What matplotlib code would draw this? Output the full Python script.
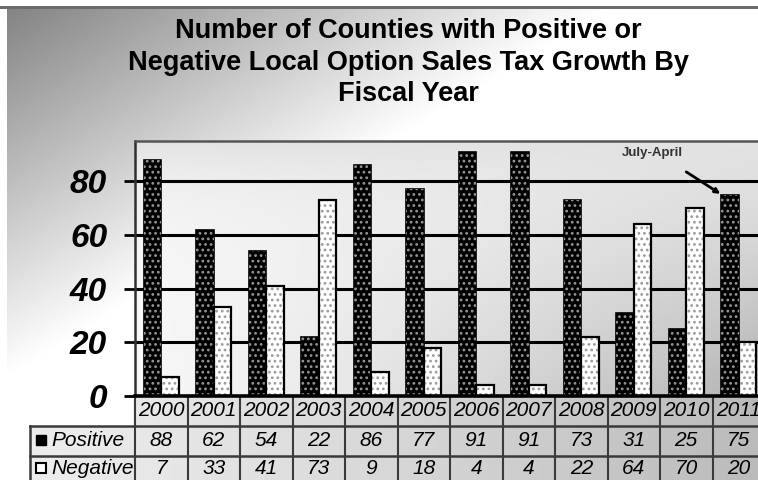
import numpy as np
import matplotlib
matplotlib.use("Agg")
import matplotlib.pyplot as plt

years = ["2000", "2001", "2002", "2003", "2004", "2005", "2006", "2007", "2008", "2009", "2010", "2011"]
positive = [88, 62, 54, 22, 86, 77, 91, 91, 73, 31, 25, 75]
negative = [7, 33, 41, 73, 9, 18, 4, 4, 22, 64, 70, 20]
yticks = [0, 20, 40, 60, 80]
title_lines = ["Number of Counties with Positive or",
               "Negative Local Option Sales Tax Growth By",
               "Fiscal Year"]
row_labels = ["Positive", "Negative"]
note = "July-April"

plt.rcParams['font.family'] = ['Liberation Sans', 'DejaVu Sans']
plt.rcParams['hatch.linewidth'] = 1.2

W, H = 758, 480
fig = plt.figure(figsize=(W / 100, H / 100), dpi=100)

# ---------- background gradient (pixel grid) ----------
X, Y = np.meshgrid(np.arange(W), np.arange(H))
t = np.clip(1 - (X / 620.0 + Y / 380.0), 0, 1)
bgv = 1 - 0.5 * t
# plot area gradient
L, R, T, B = 135, 765, 141, 396
pa = (X >= L) & (Y >= T) & (Y < B)
px = (X - L) / (R - L)
py = (B - Y) / (B - T)
pav = 0.97 - 0.27 * px ** 1.3 * (1 - py) ** 0.8 - 0.08 * py ** 5
bgv = np.where(pa, pav, bgv)
# table area gradient
tb = ((X >= L) & (Y >= B)) | ((X >= 30) & (Y >= 426))
tbv = 0.93 - 0.2 * np.clip((X - 30) / 730.0, 0, 1) ** 1.2
bgv = np.where(tb, tbv, bgv)
# white strips & top dark line
bgv[:, :7] = 1.0
bgv[:6, :] = 1.0
bgv[6:9, :] = 0.42
img = np.dstack([bgv, bgv, bgv])
bg = fig.add_axes([0, 0, 1, 1], zorder=-10)
bg.imshow(img, aspect='auto', interpolation='bilinear', extent=[0, W, H, 0])
bg.set_xlim(0, W); bg.set_ylim(H, 0)
bg.set_axis_off()

# ---------- main axes ----------
ax = fig.add_axes([L / W, (H - B) / H, (R - L) / W, (B - T) / H])
ax.patch.set_alpha(0)
x = np.arange(len(years))
bw = 0.33
ax.set_xlim(-0.5, len(years) - 0.5)
ax.set_ylim(0, 95)

for yv in yticks[1:]:
    ax.axhline(yv, color='black', lw=2.2, zorder=1)
ax.axhline(0, color='black', lw=2.6, zorder=4, clip_on=False)

# positive bars: black with gray dots
ax.bar(x - bw / 2, positive, bw, color='black', edgecolor='black', lw=1.2, zorder=2)
ax.bar(x - bw / 2, positive, bw, facecolor='none', edgecolor='#969696', hatch='...', lw=0, zorder=2.1)
# negative bars: white with gray dots
ax.bar(x + bw / 2, negative, bw, color='white', edgecolor='black', lw=1.2, zorder=2)
ax.bar(x + bw / 2, negative, bw, facecolor='none', edgecolor='#9a9a9a', hatch='...', lw=0, zorder=2.1)
ax.bar(x + bw / 2, negative, bw, facecolor='none', edgecolor='black', lw=1.6, zorder=2.2)

ax.set_yticks(yticks)
ax.set_yticklabels([str(v) for v in yticks], fontsize=24, fontweight='bold', fontstyle='italic')
ax.tick_params(axis='y', length=8, width=2, pad=12, color='black')
ax.set_xticks([])
ax.spines['right'].set_visible(False)
ax.spines['bottom'].set_visible(False)
ax.spines['top'].set_color('#555555'); ax.spines['top'].set_linewidth(1.8)
ax.spines['left'].set_color('#303030'); ax.spines['left'].set_linewidth(1.8)

# ---------- data table ----------
def ya(pix):
    return (B - pix) / (B - T)

tr = ax.get_xaxis_transform()
lc = '#3a3a3a'
for i in range(len(years) + 1):
    ax.plot([i - 0.5, i - 0.5], [ya(396), ya(482)], color=lc, lw=1.5, transform=tr, clip_on=False)
xl = -0.5 - 105 / 52.5
for py_ in (426, 456):
    ax.plot([xl, len(years) - 0.5], [ya(py_), ya(py_)], color=lc, lw=1.8, transform=tr, clip_on=False)
ax.plot([xl, xl], [ya(426), ya(482)], color=lc, lw=1.8, transform=tr, clip_on=False)

fs = 15
for i, yr in enumerate(years):
    ax.text(i, ya(410), yr, transform=tr, ha='center', va='center', fontsize=fs,
            fontstyle='italic', clip_on=False)
    ax.text(i, ya(441), str(positive[i]), transform=tr, ha='center', va='center', fontsize=fs,
            fontstyle='italic', clip_on=False)
    ax.text(i, ya(469), str(negative[i]), transform=tr, ha='center', va='center', fontsize=fs,
            fontstyle='italic', clip_on=False)

mx = -0.5 - 94 / 52.5
tx = -0.5 - 84 / 52.5
ax.plot([mx], [ya(440)], marker='s', ms=7, mfc='black', mec='black', transform=tr, clip_on=False)
ax.plot([mx], [ya(468)], marker='s', ms=6.5, mfc='white', mec='black', mew=1.5, transform=tr, clip_on=False)
ax.text(tx, ya(441), row_labels[0], transform=tr, ha='left', va='center', fontsize=fs,
        fontstyle='italic', clip_on=False)
ax.text(tx, ya(469), row_labels[1], transform=tr, ha='left', va='center', fontsize=fs,
        fontstyle='italic', clip_on=False)

# ---------- annotation ----------
ax.text(9.35, 90.4, note, ha='center', va='center', fontsize=9.5, fontweight='bold', color='#333333')
ax.annotate('', xy=(11 - bw - 0.02, positive[11] + 0.3), xytext=(10.0, 83.5),
            arrowprops=dict(arrowstyle='-|>', lw=2, color='black', mutation_scale=7,
                            shrinkA=0, shrinkB=0))

# ---------- title ----------
for k, line in enumerate(title_lines):
    fig.text(408 / W, 1 - (38 + 31.5 * k) / H, line, ha='center', va='baseline',
             fontsize=19.5, fontweight='bold')

fig.savefig('out.png', dpi=100)
